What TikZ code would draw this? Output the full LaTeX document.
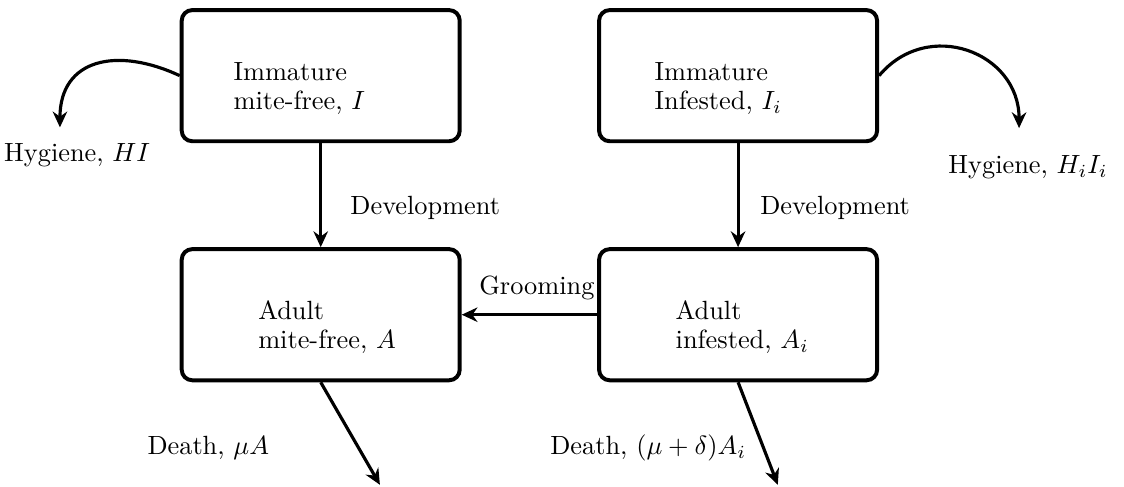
\documentclass[tikz,border=0pt]{standalone}
\usetikzlibrary{arrows.meta}
\begin{document}
\begin{tikzpicture}[
    box/.style={draw, rounded corners=4pt, line width=1.5pt, minimum width=3.71cm, minimum height=1.75cm},
    boxtext/.style={anchor=north west, inner sep=0pt, align=left, font=\fontsize{10}{11}\selectfont},
    flow/.style={->, line width=1.2pt},
    >={Stealth[length=6pt,width=5.5pt]}
]
\useasboundingbox (0,0) rectangle (15,-6.486);

% Compartments
\node[box] (I) at (4.28,-1.01) {};
\node[box] (Ii) at (9.85,-1.01) {};
\node[box] (A) at (4.28,-4.20) {};
\node[box] (Ai) at (9.85,-4.20) {};

\node[boxtext] (Itxt) at (3.11,-0.83) {Immature\\mite-free, $I$};
\node[boxtext] (Iitxt) at (8.73,-0.83) {Immature\\Infested, $I_i$};
\node[boxtext] (Atxt) at (3.44,-4.00) {Adult\\mite-free, $A$};
\node[boxtext] (Aitxt) at (9.01,-4.00) {Adult\\infested, $A_i$};

% Free ends
\coordinate (hI) at (0.80,-1.70);
\coordinate (hIi) at (13.60,-1.71);
\coordinate (dA) at (5.07,-6.47);
\coordinate (dAi) at (10.38,-6.47);

% Flows
\draw[flow] (I) -- (A);
\draw[flow] (Ii) -- (Ai);
\draw[flow] (Ai) -- (A);
\draw[flow] (I.west) to[out=155, in=90, looseness=1.35] (hI);
\draw[flow] (Ii.east) to[out=50, in=90, looseness=1.3] (hIi);
\draw[flow] (A.south) -- (dA);
\draw[flow] (Ai.south) -- (dAi);

% Labels
\node[anchor=west, inner sep=0pt] (devI) at (4.67,-2.78) {Development};
\node[anchor=west, inner sep=0pt] (devIi) at (10.14,-2.78) {Development};
\node[anchor=east, inner sep=0pt] (groom) at (7.94,-3.84) {Grooming};
\node (hygI) at (1.03,-2.07) {Hygiene, $HI$};
\node (hygIi) at (13.72,-2.23) {Hygiene, $H_iI_i$};
\node (deathA) at (2.78,-5.98) {Death, $\mu A$};
\node (deathAi) at (8.65,-5.98) {Death, $(\mu+\delta)A_i$};
\end{tikzpicture}
\end{document}
